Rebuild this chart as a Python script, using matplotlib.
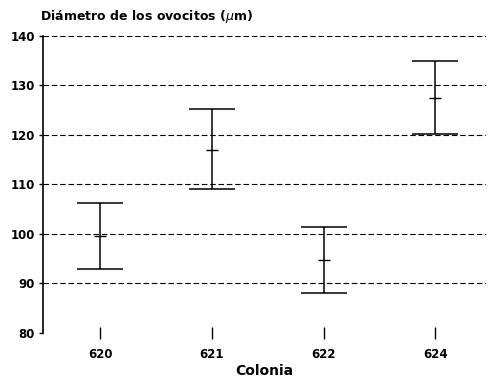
import numpy as np
from matplotlib import pyplot as plt

plt.rcParams['font.family'] = ['DejaVu Sans']

# datos
colonias = ["620", "621", "622", "624"]
media = [99.5, 117.0, 94.7, 127.4]
superior = [106.2, 125.2, 101.4, 134.9]
inferior = [92.9, 109.0, 88.0, 120.1]
y_ticks = [80, 90, 100, 110, 120, 130, 140]

fig = plt.figure(figsize=(4.89, 3.77), dpi=100)
ax = fig.add_axes([0.088, 0.117, 0.905, 0.788])

x = np.arange(1, len(colonias) + 1)
err = [np.array(media) - np.array(inferior), np.array(superior) - np.array(media)]

# lineas de referencia
for v in y_ticks[1:]:
    ax.axhline(v, color="black", lw=0.8, dashes=(5, 2.5), zorder=1)

ax.errorbar(x, media, yerr=err, fmt="none", ecolor="black", elinewidth=1.1,
            capsize=16.5, capthick=1.1, zorder=3)
ax.plot(x, media, ls="none", marker="_", ms=8, mew=1.0, color="black", zorder=4)

ax.set_xlim(0.49, 4.45)
ax.set_ylim(80, 140)
ax.set_xticks(x)
ax.set_xticklabels(colonias, fontsize=8.5, fontweight="bold")
ax.set_yticks(y_ticks)
ax.set_yticklabels([str(v) for v in y_ticks], fontsize=8.5, fontweight="bold")
ax.tick_params(axis="x", direction="inout", length=8, width=1.0, pad=7)
ax.tick_params(axis="y", direction="out", length=3, width=1.0, pad=3)

for s in ["top", "right", "bottom"]:
    ax.spines[s].set_visible(False)
ax.spines["left"].set_linewidth(1.2)

ax.set_xlabel("Colonia", fontsize=10, fontweight="bold", labelpad=2)
fig.text(0.082, 0.935, r"Diámetro de los ovocitos ($\mu$m)", fontsize=9,
         fontweight="bold", ha="left", va="bottom")

fig.savefig("out.png", dpi=100)
